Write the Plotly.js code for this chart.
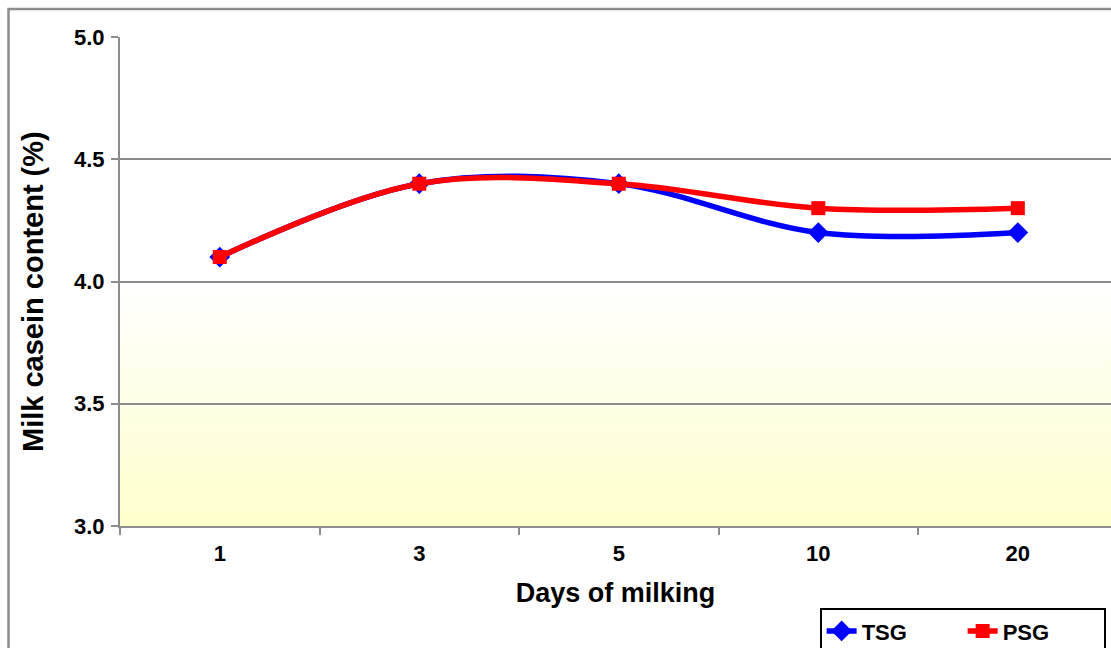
<!DOCTYPE html>
<html>
<head>
<meta charset="utf-8">
<script src="https://cdn.plot.ly/plotly-3.0.1.min.js"></script>
<style>
  html, body { margin: 0; padding: 0; background: #fff; }
  #chart { width: 1111px; height: 648px; }
</style>
</head>
<body>
<div id="chart"></div>
<script>
// Milk casein content over days of milking
const days = ['1', '3', '5', '10', '20'];
const tsg = [4.1, 4.4, 4.4, 4.2, 4.2];
const psg = [4.1, 4.4, 4.4, 4.3, 4.3];
const yTicks = [3.0, 3.5, 4.0, 4.5, 5.0];

const FONT = 'Liberation Sans, Arial, sans-serif';
const GRID = '#8c8c8c';

// soft white-to-yellow wash for the lower band of the plot
const gradSvg = '<svg xmlns="http://www.w3.org/2000/svg" width="10" height="100" preserveAspectRatio="none">' +
  '<defs><linearGradient id="g" x1="0" y1="0" x2="0" y2="1">' +
  '<stop offset="0" stop-color="#ffffff"/><stop offset="1" stop-color="#ffffcc"/>' +
  '</linearGradient></defs><rect width="10" height="100" fill="url(#g)"/></svg>';
const gradUri = 'data:image/svg+xml;base64,' + btoa(gradSvg);

const traces = [
  {
    x: days, y: tsg, name: 'TSG', type: 'scatter', mode: 'lines+markers',
    line: { color: '#0000ff', width: 5.5, shape: 'spline', smoothing: 1 },
    marker: { symbol: 'diamond', size: 16, color: '#0000ff' }
  },
  {
    x: days, y: psg, name: 'PSG', type: 'scatter', mode: 'lines+markers',
    line: { color: '#ff0000', width: 5.5, shape: 'spline', smoothing: 1 },
    marker: { symbol: 'square', size: 14, color: '#ff0000' }
  }
];

const layout = {
  width: 1111, height: 648,
  margin: { l: 120, r: 0, t: 37, b: 122, autoexpand: false },
  paper_bgcolor: '#ffffff',
  plot_bgcolor: '#ffffff',
  font: { family: FONT, color: '#000', size: 18 },
  showlegend: true,
  legend: {
    orientation: 'h', x: 0.706, xanchor: 'left', y: -0.168, yanchor: 'top',
    bordercolor: '#000', borderwidth: 2, bgcolor: '#fff',
    font: { family: FONT, size: 22, color: '#000', weight: 'bold' },
    entrywidth: 96, entrywidthmode: 'pixels', traceorder: 'normal'
  },
  xaxis: {
    type: 'category', range: [-0.5, 4.467],
    tickson: 'boundaries', ticks: 'outside', ticklen: 7, tickwidth: 2, tickcolor: GRID,
    ticklabelstandoff: 7,
    showline: true, linecolor: GRID, linewidth: 2, showgrid: false, zeroline: false,
    tickfont: { family: FONT, size: 22, color: '#000', weight: 'bold' },
    title: { text: 'Days of milking', standoff: 18, font: { family: FONT, size: 27, color: '#000', weight: 'bold' } },
    fixedrange: true
  },
  yaxis: {
    range: [3, 5], tickvals: yTicks, tickformat: '.1f',
    ticks: 'outside', ticklen: 7, tickwidth: 2, tickcolor: GRID,
    ticklabelstandoff: 2,
    showline: true, linecolor: GRID, linewidth: 2,
    showgrid: true, gridcolor: GRID, gridwidth: 2, zeroline: false,
    tickfont: { family: FONT, size: 22, color: '#000', weight: 'bold' },
    fixedrange: true
  },
  annotations: [{
    text: 'Milk casein content (%)', textangle: -90,
    xref: 'paper', yref: 'paper', x: -0.0878, y: 0.4806,
    xanchor: 'center', yanchor: 'middle', showarrow: false,
    font: { family: FONT, size: 29, color: '#000', weight: 'bold' }
  }],
  images: [{
    source: gradUri, xref: 'paper', yref: 'y',
    x: 0, y: 4.0, sizex: 1, sizey: 1.0,
    xanchor: 'left', yanchor: 'top', sizing: 'stretch', layer: 'below'
  }],
  shapes: [{
    type: 'rect', xref: 'paper', yref: 'paper',
    x0: -0.1125, x1: 1.2, y0: -0.6, y1: 1.0573,
    line: { color: GRID, width: 2.5 }, fillcolor: 'rgba(0,0,0,0)', layer: 'below'
  }]
};

Plotly.newPlot('chart', traces, layout, { displayModeBar: false, staticPlot: true });
</script>
</body>
</html>
